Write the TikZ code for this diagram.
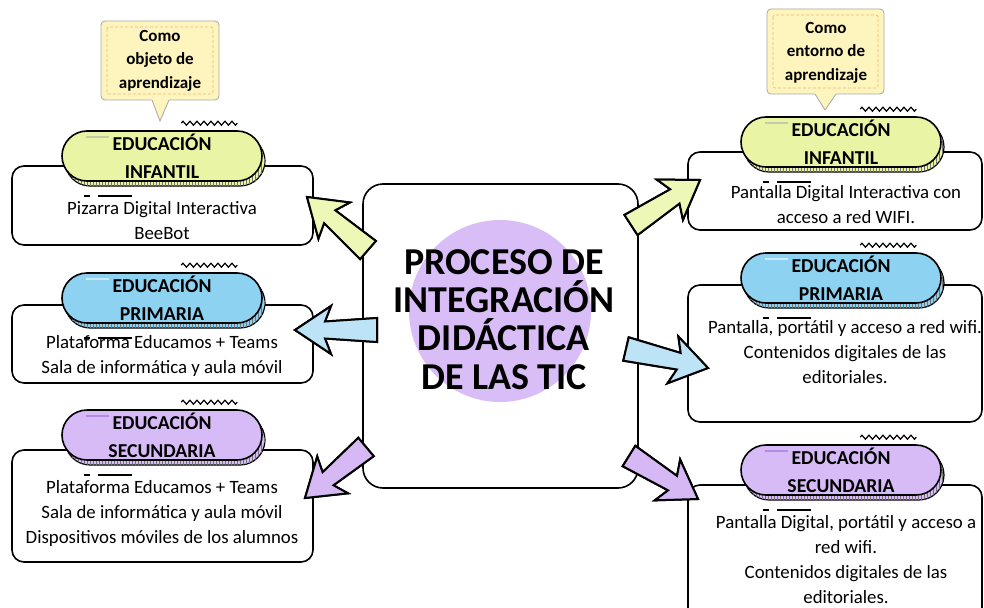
\documentclass[tikz,border=0pt]{standalone}
\usepackage{fontspec}
\setmainfont{Carlito}
\usetikzlibrary{calc,decorations.pathmorphing,patterns,shadows}
\definecolor{pillY}{HTML}{E9F5A4}
\definecolor{pillB}{HTML}{8ED2F2}
\definecolor{pillP}{HTML}{D7BBF6}
\definecolor{arrY}{HTML}{EEF8B6}
\definecolor{arrB}{HTML}{BDE3F7}
\definecolor{arrP}{HTML}{D5B8F4}
\definecolor{circP}{HTML}{D9BDF6}
\definecolor{callF}{HTML}{FEF4BE}
\definecolor{callD}{HTML}{E8C070}
\definecolor{callB}{HTML}{A8A8A8}
\definecolor{hlY}{HTML}{C5CBA8}
\definecolor{hlB}{HTML}{C8ECFC}
\definecolor{hlP}{HTML}{B48AE6}
\tikzset{
  pill/.style={rectangle, rounded corners=25pt, draw=black, line width=1.6pt, fill=#1,
    minimum width=200pt, minimum height=50pt, inner sep=0pt, align=center,
    font=\bfseries\fontsize{19.7}{28}\selectfont,
    general shadow={shadow xshift=3pt, shadow yshift=-5pt, fill=#1, draw=black, line width=1.2pt},
    general shadow={shadow xshift=3pt, shadow yshift=-5pt, pattern=vertical lines, pattern color=black!55}},
  infobox/.style={draw=black, line width=1.6pt, rounded corners=12pt, fill=white, inner sep=0pt},
  bodytext/.style={font=\fontsize{18.8}{25}\selectfont, align=center, inner sep=0pt},
  calltext/.style={font=\bfseries\fontsize{17}{23.5}\selectfont, align=center, inner sep=0pt},
  arrowstyle/.style={draw=black, line width=2pt, line join=miter},
  zig/.style={line width=1.2pt, decorate, decoration={zigzag, segment length=7pt, amplitude=2pt}},
  dashbar/.style={line width=1.5pt},
}
\newcommand\blockarrow[2]{%
  \coordinate (#1-h) at ($(#1-p)!36pt!(#1-t)$);
  \coordinate (#1-j) at ($(#1-p)!30pt!(#1-t)$);
  \draw[arrowstyle, black, fill=black, shift={(1.5,1.8)}] ($(#1-t)!12pt!90:(#1-p)$) -- ($(#1-j)!8.5pt!90:(#1-p)$)
    -- ($(#1-h)!24pt!90:(#1-p)$) -- (#1-p) -- ($(#1-h)!24pt!-90:(#1-p)$)
    -- ($(#1-j)!8.5pt!-90:(#1-p)$) -- ($(#1-t)!12pt!-90:(#1-p)$) -- cycle;
  \draw[arrowstyle, fill=#2] ($(#1-t)!12pt!90:(#1-p)$) -- ($(#1-j)!8.5pt!90:(#1-p)$)
    -- ($(#1-h)!24pt!90:(#1-p)$) -- (#1-p) -- ($(#1-h)!24pt!-90:(#1-p)$)
    -- ($(#1-j)!8.5pt!-90:(#1-p)$) -- ($(#1-t)!12pt!-90:(#1-p)$) -- cycle;}
\newcommand\pilldeco[2]{%
  \draw[zig] ($(#1.north west)+(120,-7)$) -- ($(#1.north west)+(176,-7)$);
  \draw[dashbar] ($(#1.south west)+(23,14)$) -- ($(#1.south west)+(29,14)$);
  \draw[dashbar] ($(#1.south west)+(37,14)$) -- ($(#1.south west)+(71,14)$);
  \draw[line width=2pt, #2] ($(#1.north west)+(25,7)$) -- ($(#1.north west)+(48,7)$);}
\newcommand\mycallout[8]{% x1 y1 x2 y2 tipx tipy basel baser
  \draw[callB, fill=callF, line width=0.8pt, rounded corners=4pt] (#1,#2) rectangle (#3,#4);
  \fill[callF] (#7-1,#4-2) -- (#5,#6) -- (#8+1,#4-2) -- cycle;
  \draw[callB, line width=0.8pt] (#7,#4) -- (#5,#6) -- (#8,#4);
  \draw[callD, dash pattern=on 3pt off 2pt, line width=0.7pt, rounded corners=2pt] (#1+6,#2+6) rectangle (#3-6,#4-6);}
\begin{document}
\begin{tikzpicture}[x=1pt,y=-1pt]
\useasboundingbox (0,0) rectangle (984,607);
\clip (0,0) rectangle (984,607);
\fill[white] (0,0) rectangle (984,607);

% callouts
\mycallout{101}{21}{219}{100}{160}{121}{152}{169}
\node[calltext] (cL) at (160,60.5) {Como\\objeto de\\aprendizaje};
\mycallout{767}{9}{884}{94}{825}{110}{815}{836}
\node[calltext] (cR) at (826,52.5) {Como\\entorno de\\aprendizaje};

% left column
\node[infobox, minimum width=301pt, minimum height=79pt] (bL1) at (162.5,205.5) {};
\node[bodytext] (tL1) at (162,221) {Pizarra Digital Interactiva\\BeeBot};
\node[pill=pillY] (pL1) at (162,156) {EDUCACIÓN\\INFANTIL};
\pilldeco{pL1}{hlY}

\node[infobox, minimum width=301pt, minimum height=78pt] (bL2) at (162.5,344) {};
\node[bodytext] (tL2) at (162,355.5) {Plataforma Educamos + Teams\\Sala de informática y aula móvil};
\node[pill=pillB] (pL2) at (162,298) {EDUCACIÓN\\PRIMARIA};
\pilldeco{pL2}{hlB}

\node[infobox, minimum width=301pt, minimum height=112pt] (bL3) at (162.5,506) {};
\node[bodytext] (tL3) at (162,513) {Plataforma Educamos + Teams\\Sala de informática y aula móvil\\Dispositivos móviles de los alumnos};
\node[pill=pillP] (pL3) at (162,435) {EDUCACIÓN\\SECUNDARIA};
\pilldeco{pL3}{hlP}

% right column
\node[infobox, minimum width=294pt, minimum height=78pt] (bR1) at (835,191) {};
\node[bodytext] (tR1) at (846,204.5) {Pantalla Digital Interactiva con\\acceso a red WIFI.};
\node[pill=pillY] (pR1) at (841,142) {EDUCACIÓN\\INFANTIL};
\pilldeco{pR1}{hlY}

\node[infobox, minimum width=294pt, minimum height=137pt] (bR2) at (835,353.5) {};
\node[bodytext] (tR2) at (845,352) {Pantalla, portátil y acceso a red wifi.\\Contenidos digitales de las\\editoriales.};
\node[pill=pillB] (pR2) at (841,278) {EDUCACIÓN\\PRIMARIA};
\pilldeco{pR2}{hlB}

\node[infobox, minimum width=294pt, minimum height=155pt] (bR3) at (835,562.5) {};
\node[bodytext] (tR3) at (846,560) {Pantalla Digital, portátil y acceso a\\red wifi.\\Contenidos digitales de las\\editoriales.};
\node[pill=pillP] (pR3) at (841,470) {EDUCACIÓN\\SECUNDARIA};
\pilldeco{pR3}{hlP}

% center
\node[draw=black, line width=1.6pt, rounded corners=20pt, fill=white, minimum width=275pt, minimum height=304pt, inner sep=0pt] (ctr) at (500.5,336) {};
\node[circle, fill=circP, minimum size=182pt, inner sep=0pt] (circ) at (500,311) {};
\node[font=\bfseries\fontsize{38}{38.3}\selectfont, align=center, inner sep=0pt] (title) at (504,319.5) {PROCESO DE\\INTEGRACIÓN\\DIDÁCTICA\\DE LAS TIC};

% arrows
\coordinate (a1-t) at (368,250); \coordinate (a1-p) at (307,197);
\coordinate (a2-t) at (631,225); \coordinate (a2-p) at (700,180);
\coordinate (a3-t) at (377,330); \coordinate (a3-p) at (295,330);
\coordinate (a4-t) at (626,349); \coordinate (a4-p) at (708,368);
\coordinate (a5-t) at (366,447); \coordinate (a5-p) at (305,498);
\coordinate (a6-t) at (629,456); \coordinate (a6-p) at (698,499);
\blockarrow{a1}{arrY}
\blockarrow{a2}{arrY}
\blockarrow{a3}{arrB}
\blockarrow{a4}{arrB}
\blockarrow{a5}{arrP}
\blockarrow{a6}{arrP}
\end{tikzpicture}
\end{document}
